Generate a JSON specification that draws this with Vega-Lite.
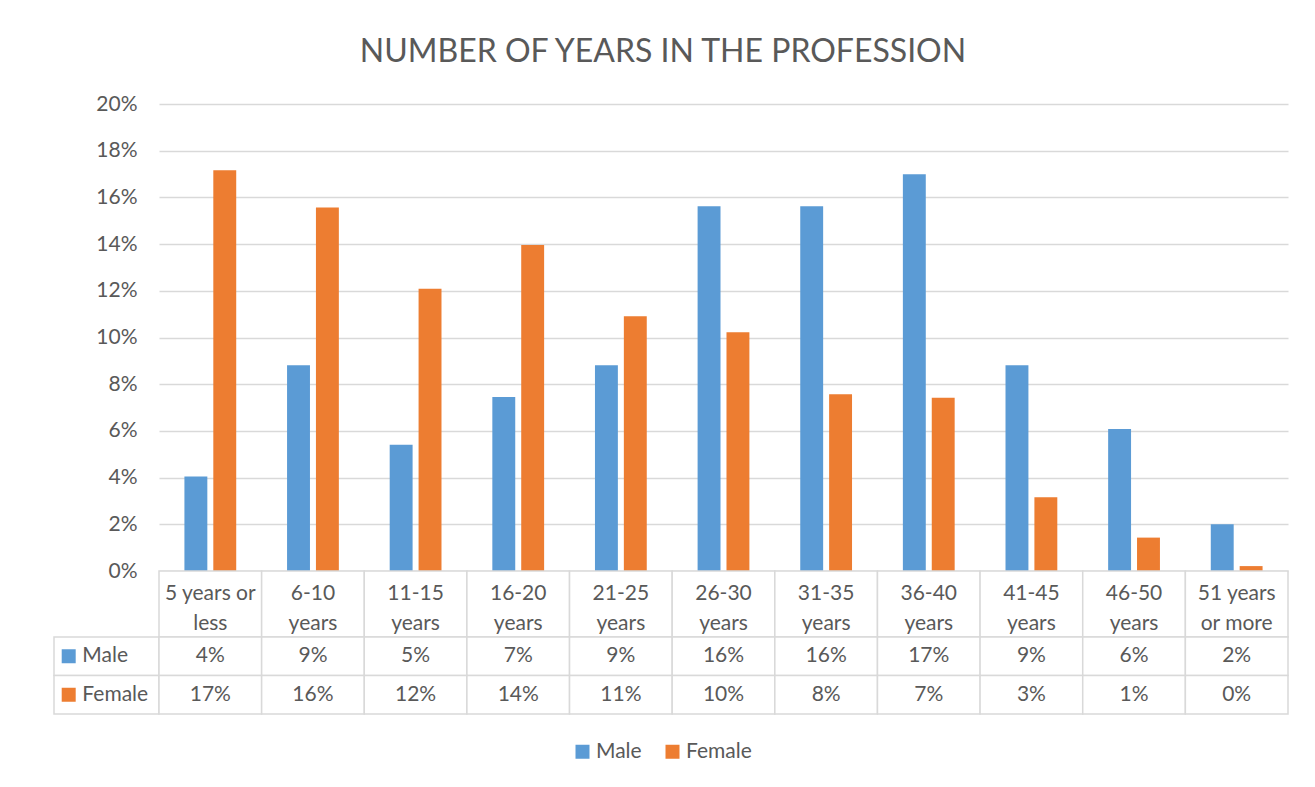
{
  "$schema": "https://vega.github.io/schema/vega-lite/v6.json",
  "background": "white",
  "padding": {"left": 53, "top": 36, "right": 28, "bottom": 40},
  "title": {"text": "NUMBER OF YEARS IN THE PROFESSION", "fontSize": 32, "font": "Lato", "fontWeight": "normal", "color": "#595959", "anchor": "middle", "offset": 24, "dx": -8},
  "datasets": {
    "bars": [
      {"category": "5 years or less", "sex": "Male", "value": 0.0405},
      {"category": "6-10 years", "sex": "Male", "value": 0.0881},
      {"category": "11-15 years", "sex": "Male", "value": 0.0541},
      {"category": "16-20 years", "sex": "Male", "value": 0.0745},
      {"category": "21-25 years", "sex": "Male", "value": 0.0881},
      {"category": "26-30 years", "sex": "Male", "value": 0.1562},
      {"category": "31-35 years", "sex": "Male", "value": 0.1562},
      {"category": "36-40 years", "sex": "Male", "value": 0.1699},
      {"category": "41-45 years", "sex": "Male", "value": 0.0881},
      {"category": "46-50 years", "sex": "Male", "value": 0.0608},
      {"category": "51 years or more", "sex": "Male", "value": 0.0200},
      {"category": "5 years or less", "sex": "Female", "value": 0.1716},
      {"category": "6-10 years", "sex": "Female", "value": 0.1557},
      {"category": "11-15 years", "sex": "Female", "value": 0.1209},
      {"category": "16-20 years", "sex": "Female", "value": 0.1396},
      {"category": "21-25 years", "sex": "Female", "value": 0.1091},
      {"category": "26-30 years", "sex": "Female", "value": 0.1022},
      {"category": "31-35 years", "sex": "Female", "value": 0.0757},
      {"category": "36-40 years", "sex": "Female", "value": 0.0742},
      {"category": "41-45 years", "sex": "Female", "value": 0.0316},
      {"category": "46-50 years", "sex": "Female", "value": 0.0143},
      {"category": "51 years or more", "sex": "Female", "value": 0.0021}
    ],
    "cats": [
      {"category": "5 years or less", "label": "5 years or\nless"},
      {"category": "6-10 years", "label": "6-10\nyears"},
      {"category": "11-15 years", "label": "11-15\nyears"},
      {"category": "16-20 years", "label": "16-20\nyears"},
      {"category": "21-25 years", "label": "21-25\nyears"},
      {"category": "26-30 years", "label": "26-30\nyears"},
      {"category": "31-35 years", "label": "31-35\nyears"},
      {"category": "36-40 years", "label": "36-40\nyears"},
      {"category": "41-45 years", "label": "41-45\nyears"},
      {"category": "46-50 years", "label": "46-50\nyears"},
      {"category": "51 years or more", "label": "51 years\nor more"}
    ],
    "hdr": [
      {"col": "hdr", "sex": "Male"},
      {"col": "hdr", "sex": "Female"}
    ]
  },
  "columns": 2,
  "spacing": 0,
  "bounds": "flush",
  "concat": [
    {"width": 105, "height": 467, "data": {"values": []}, "mark": "rect", "encoding": {}},
    {
      "width": 1129, "height": 467,
      "data": {"name": "bars"},
      "mark": {"type": "bar"},
      "encoding": {
        "x": {"field": "category", "type": "nominal", "scale": {"domain": ["5 years or less","6-10 years","11-15 years","16-20 years","21-25 years","26-30 years","31-35 years","36-40 years","41-45 years","46-50 years","51 years or more"], "paddingInner": 0, "paddingOuter": 0}, "axis": null},
        "xOffset": {"field": "sex", "type": "nominal", "scale": {"domain": ["Male", "Female"], "paddingInner": 0.207, "paddingOuter": 0.88}},
        "y": {"field": "value", "type": "quantitative", "scale": {"domain": [0, 0.2], "nice": false},
              "axis": {"format": ".0%", "values": [0, 0.02, 0.04, 0.06, 0.08, 0.1, 0.12, 0.14, 0.16, 0.18, 0.2], "domain": false, "ticks": false, "title": null, "labelPadding": 22, "labelFontSize": 21, "labelFont": "Lato", "labelColor": "#595959", "gridColor": "#D9D9D9", "gridWidth": 1.5}},
        "color": {"field": "sex", "type": "nominal", "scale": {"domain": ["Male", "Female"], "range": ["#5B9BD5", "#ED7D31"]},
                  "legend": {"orient": "none", "legendX": 518, "legendY": 637, "direction": "horizontal", "title": null, "symbolType": "square", "symbolSize": 196, "symbolStrokeWidth": 0, "labelFontSize": 21, "labelFont": "Lato", "labelColor": "#595959", "columnPadding": 20, "labelOffset": 3, "padding": 0}}
      }
    },
    {"width": 105, "height": 66, "data": {"values": []}, "mark": "rect", "encoding": {}},
    {
      "width": 1129, "height": 66,
      "data": {"name": "cats"},
      "encoding": {
        "x": {"field": "category", "type": "nominal", "scale": {"type": "band", "domain": ["5 years or less","6-10 years","11-15 years","16-20 years","21-25 years","26-30 years","31-35 years","36-40 years","41-45 years","46-50 years","51 years or more"], "paddingInner": 0, "paddingOuter": 0}, "axis": null}
      },
      "layer": [
        {"mark": {"type": "rect", "fill": "white", "stroke": "#D9D9D9", "strokeWidth": 1.5}},
        {"mark": {"type": "text", "lineBreak": "\n", "lineHeight": 30, "fontSize": 21, "font": "Lato", "color": "#595959", "dy": -10}, "encoding": {"text": {"field": "label"}}}
      ]
    },
    {
      "width": 105, "height": 77,
      "data": {"name": "hdr"},
      "encoding": {
        "y": {"field": "sex", "type": "nominal", "scale": {"type": "band", "domain": ["Male", "Female"], "paddingInner": 0, "paddingOuter": 0}, "axis": null}
      },
      "layer": [
        {"mark": {"type": "rect", "fill": "white", "stroke": "#D9D9D9", "strokeWidth": 1.5}},
        {"mark": {"type": "point", "shape": "square", "filled": true, "size": 196, "opacity": 1},
         "encoding": {
           "x": {"field": "col", "type": "nominal", "bandPosition": 0.14, "scale": {"type": "band", "paddingInner": 0, "paddingOuter": 0}, "axis": null},
           "color": {"field": "sex", "type": "nominal", "legend": null}
         }},
        {"mark": {"type": "text", "align": "left", "fontSize": 21, "font": "Lato", "color": "#595959"},
         "encoding": {
           "x": {"field": "col", "type": "nominal", "bandPosition": 0.27, "scale": {"type": "band", "paddingInner": 0, "paddingOuter": 0}, "axis": null},
           "text": {"field": "sex"}
         }}
      ]
    },
    {
      "width": 1129, "height": 77,
      "data": {"name": "bars"},
      "encoding": {
        "x": {"field": "category", "type": "nominal", "scale": {"type": "band", "domain": ["5 years or less","6-10 years","11-15 years","16-20 years","21-25 years","26-30 years","31-35 years","36-40 years","41-45 years","46-50 years","51 years or more"], "paddingInner": 0, "paddingOuter": 0}, "axis": null},
        "y": {"field": "sex", "type": "nominal", "scale": {"type": "band", "domain": ["Male", "Female"], "paddingInner": 0, "paddingOuter": 0}, "axis": null}
      },
      "layer": [
        {"mark": {"type": "rect", "fill": "white", "stroke": "#D9D9D9", "strokeWidth": 1.5}},
        {"mark": {"type": "text", "fontSize": 21, "font": "Lato", "color": "#595959"}, "encoding": {"text": {"field": "value", "type": "quantitative", "format": ".0%"}}}
      ]
    }
  ],
  "config": {
    "view": {"stroke": null},
    "font": "Lato"
  }
}
